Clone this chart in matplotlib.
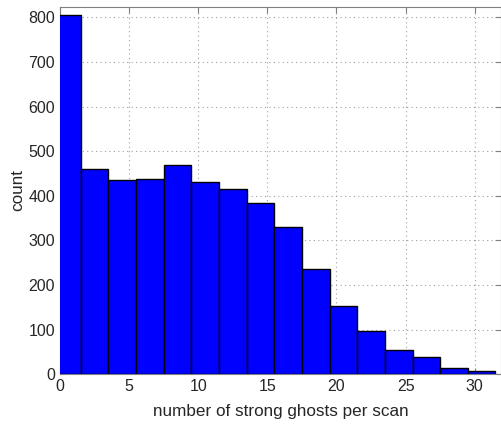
import numpy as np
import matplotlib.pyplot as plt

# bin centres and counts
bin_centers = [0.5, 2.5, 4.5, 6.5, 8.5, 10.5, 12.5, 14.5, 16.5, 18.5, 20.5, 22.5, 24.5, 26.5, 28.5, 30.5]
counts = [804, 460, 435, 438, 469, 430, 416, 384, 329, 235, 153, 96, 55, 39, 15, 8]
xticks = [0, 5, 10, 15, 20, 25, 30]
yticks = [0, 100, 200, 300, 400, 500, 600, 700, 800]

plt.rcParams['font.family'] = ['Liberation Sans', 'DejaVu Sans']

fig = plt.figure(figsize=(5.01, 4.29), dpi=100)
ax = fig.add_axes([60 / 501, 1 - 374.3 / 429, 441 / 501, 367.6 / 429])

ax.bar(bin_centers, counts, width=2, color='#0000ff', edgecolor='black', linewidth=1, zorder=3)

ax.set_xlim(0, 31.9)
ax.set_ylim(0, 823.7)
ax.set_xticks(xticks)
ax.set_yticks(yticks)
ax.grid(True, linestyle=(0, (1, 3)), color='#a0a0a0', linewidth=0.8, zorder=0)

ax.tick_params(direction='in', length=4, top=True, right=True, labelsize=11.5,
               colors='#808080', labelcolor='#262626')
for s in ax.spines.values():
    s.set_color('#808080')

ax.set_xlabel('number of strong ghosts per scan', fontsize=12.3, color='#262626', labelpad=7)
ax.set_ylabel('count', fontsize=12.3, color='#262626', labelpad=2)

fig.savefig('out.png', dpi=100)
